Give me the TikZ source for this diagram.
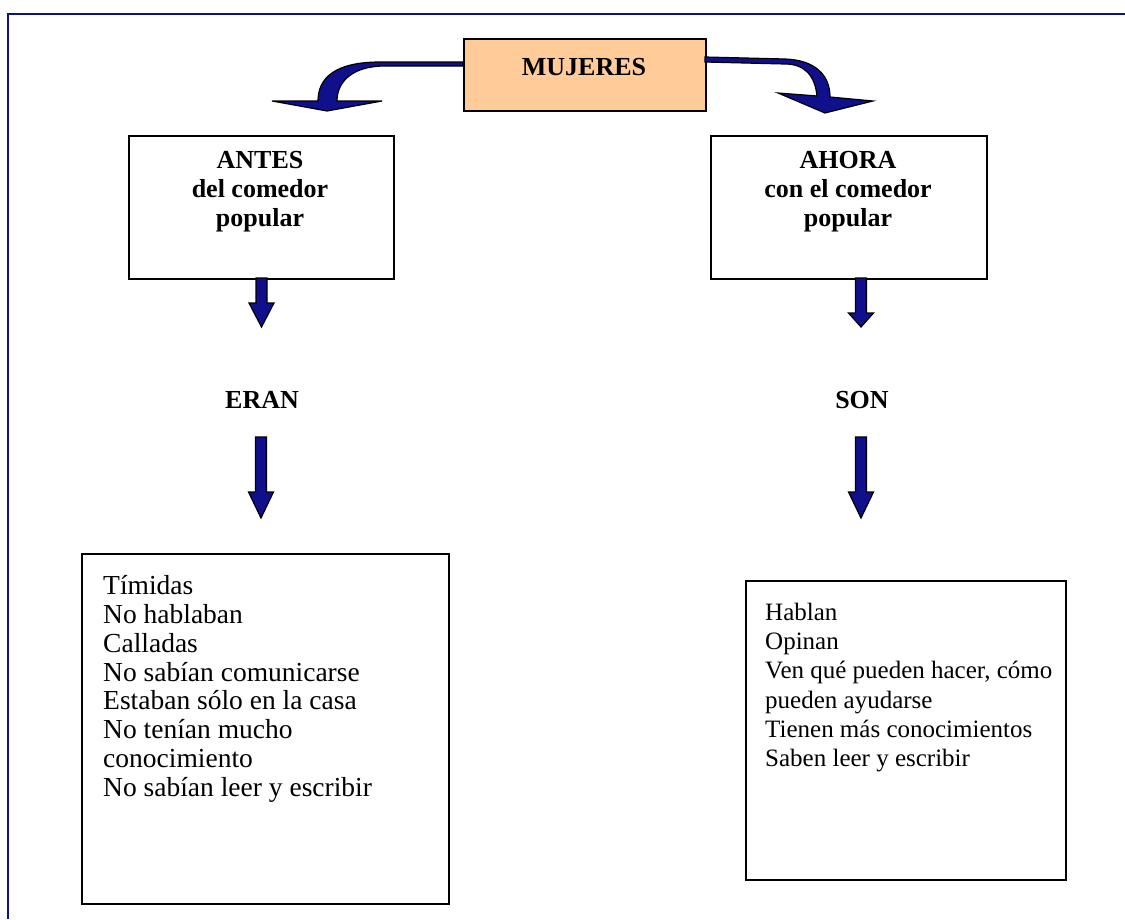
\documentclass[tikz,border=0pt]{standalone}
\usepackage{fontspec}
\setmainfont{Liberation Serif}
\definecolor{navyA}{RGB}{16,16,140}
\definecolor{peach}{RGB}{255,204,153}
\newcommand{\blockdown}[4]{\filldraw[blockarrow] (#1-5.5,#2) -- (#1-5.5,#3) -- (#1-12.5,#3) -- (#1,#4) -- (#1+12.5,#3) -- (#1+5.5,#3) -- (#1+5.5,#2) -- cycle;}
\begin{document}
\begin{tikzpicture}[x=1pt,y=-1pt,
  blockarrow/.style={fill=navyA, draw=black, line width=1.2pt, line join=miter},
  boxsty/.style={draw=black, line width=1.5pt, anchor=north west, inner sep=0pt},
  headfont/.style={font=\bfseries\fontsize{26}{29}\selectfont},
  listL/.style={font=\fontsize{27.5}{28.9}\selectfont, align=left, anchor=north west, inner sep=0pt},
  listR/.style={font=\fontsize{25}{29.2}\selectfont, align=left, anchor=north west, inner sep=0pt}]
\useasboundingbox (0,0) rectangle (1125,919);
% frame
\draw[navyA, line width=2pt] (8,919) -- (8,14) -- (1125,14);
% top box
\node[boxsty, fill=peach, minimum width=242pt, minimum height=72pt] (muj) at (463,38) {};
\node[headfont] (mujT) at (584,67) {MUJERES};
% curved arrows
\filldraw[blockarrow] (463,62) -- (380,62) .. controls (335,62) and (318,78) .. (318,101) -- (272,101) -- (327,111) -- (382,101) -- (337,101) .. controls (337,82) and (352,66) .. (385,66) -- (463,66) -- cycle;
\filldraw[blockarrow] (705,57) -- (785,59) .. controls (815,60) and (830,75) .. (830,97) -- (873,101) -- (825,113) -- (778,93) -- (817,96) .. controls (815,76) and (805,64) .. (785,64) -- (705,62) -- cycle;
% heading boxes
\node[boxsty, minimum width=265pt, minimum height=143pt] (antes) at (128,135) {};
\node[headfont, align=center] (antesT) at (260,192) {ANTES\\del comedor\\popular};
\node[boxsty, minimum width=276pt, minimum height=143pt] (ahora) at (710,135) {};
\node[headfont, align=center] (ahoraT) at (848,192) {AHORA\\con el comedor\\popular};
% down arrows
\blockdown{261.5}{278}{303}{327}
\blockdown{861}{278}{313}{327}
\node[headfont] (eran) at (262,400) {ERAN};
\node[headfont] (son) at (862,400) {SON};
\blockdown{261}{437}{492}{518}
\blockdown{861}{437}{492}{518}
% list boxes
\node[boxsty, minimum width=367pt, minimum height=350pt] (boxL) at (81,553) {};
\node[listL] (txtL) at (103,575) {Tímidas\\No hablaban\\Calladas\\No sabían comunicarse\\Estaban sólo en la casa\\No tenían mucho\\conocimiento\\No sabían leer y escribir};
\node[boxsty, minimum width=320pt, minimum height=299pt] (boxR) at (745,580) {};
\node[listR] (txtR) at (765,603) {Hablan\\Opinan\\Ven qué pueden hacer, cómo\\pueden ayudarse\\Tienen más conocimientos\\Saben leer y escribir};
\end{tikzpicture}
\end{document}
